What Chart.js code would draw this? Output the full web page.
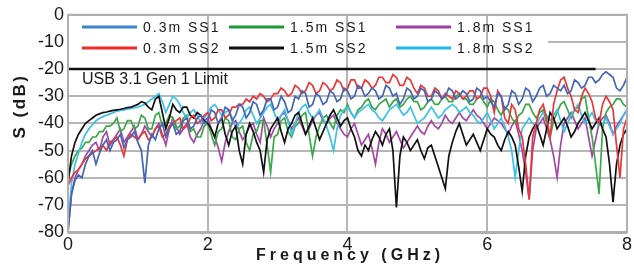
<!DOCTYPE html>
<html>
<head>
<meta charset="utf-8">
<script src="https://cdn.jsdelivr.net/npm/chart.js@4.4.1/dist/chart.umd.min.js"></script>
<style>
  html, body { margin: 0; padding: 0; background: #fff; }
  #wrap { width: 634px; height: 267px; }
</style>
</head>
<body>
<div id="wrap"><canvas id="sChart" width="634" height="267"></canvas></div>
<script>
// --- DATA (one row per GHz) ---
const freqGHz = [
  0,0.05,0.1,0.15,0.2,0.25,0.3,0.35,0.4,0.45,0.5,0.55,0.6,0.65,0.7,0.75,0.8,0.85,0.9,0.95,
  1,1.05,1.1,1.15,1.2,1.25,1.3,1.35,1.4,1.45,1.5,1.55,1.6,1.65,1.7,1.75,1.8,1.85,1.9,1.95,
  2,2.05,2.1,2.15,2.2,2.25,2.3,2.35,2.4,2.45,2.5,2.55,2.6,2.65,2.7,2.75,2.8,2.85,2.9,2.95,
  3,3.05,3.1,3.15,3.2,3.25,3.3,3.35,3.4,3.45,3.5,3.55,3.6,3.65,3.7,3.75,3.8,3.85,3.9,3.95,
  4,4.05,4.1,4.15,4.2,4.25,4.3,4.35,4.4,4.45,4.5,4.55,4.6,4.65,4.7,4.75,4.8,4.85,4.9,4.95,
  5,5.05,5.1,5.15,5.2,5.25,5.3,5.35,5.4,5.45,5.5,5.55,5.6,5.65,5.7,5.75,5.8,5.85,5.9,5.95,
  6,6.05,6.1,6.15,6.2,6.25,6.3,6.35,6.4,6.45,6.5,6.55,6.6,6.65,6.7,6.75,6.8,6.85,6.9,6.95,
  7,7.05,7.1,7.15,7.2,7.25,7.3,7.35,7.4,7.45,7.5,7.55,7.6,7.65,7.7,7.75,7.8,7.85,7.9,7.95,
  8];

const ss1_03m = [
  -80,-66,-61,-59,-60,-55,-52,-50,-55,-51,-48,-46,-50,-47,-46,-44,-49,-46,-45,-43,
  -47,-50,-62,-48,-44,-46,-42,-40,-45,-42,-40,-44,-43,-39,-38,-42,-41,-38,-37,-40,
  -39,-35,-36,-40,-38,-34,-35,-39,-37,-33,-34,-38,-36,-32,-33,-37,-35,-31,-31,-35,
  -34,-30,-32,-36,-35,-30,-31,-28,-29,-34,-33,-29,-30,-33,-32,-28,-29,-32,-31,-27,
  -28,-31,-30,-26,-27,-30,-29,-27,-28,-31,-30,-26,-27,-30,-29,-33,-31,-27,-28,-31,
  -30,-27,-28,-32,-31,-28,-29,-31,-30,-27,-28,-31,-30,-28,-29,-32,-31,-27,-28,-31,
  -30,-32,-34,-29,-30,-35,-33,-28,-29,-33,-31,-27,-28,-32,-30,-27,-26,-30,-29,-26,
  -27,-28,-26,-29,-28,-24,-25,-27,-26,-23,-23,-25,-24,-22,-21,-22,-23,-27,-28,-26,
  -23];

const ss2_03m = [
  -63,-60,-58,-57,-55,-53,-52,-51,-50,-49,-48,-50,-47,-46,-45,-48,-52,-46,-44,-45,
  -46,-44,-43,-46,-45,-42,-41,-45,-44,-41,-40,-39,-38,-42,-41,-38,-37,-40,-39,-37,
  -36,-39,-38,-35,-35,-38,-37,-34,-34,-33,-33,-31,-32,-30,-31,-29,-30,-32,-31,-29,
  -29,-27,-28,-30,-29,-26,-27,-29,-28,-25,-26,-29,-28,-25,-26,-28,-27,-24,-25,-28,
  -27,-24,-24,-27,-27,-24,-25,-27,-26,-23,-23,-25,-25,-22,-23,-26,-26,-23,-24,-27,
  -29,-26,-27,-30,-30,-27,-28,-31,-29,-30,-31,-28,-29,-31,-30,-28,-28,-31,-30,-27,
  -27,-30,-36,-28,-30,-38,-40,-33,-35,-42,-45,-55,-68,-45,-40,-35,-33,-38,-45,-33,
  -28,-24,-23,-27,-30,-35,-36,-30,-27,-29,-32,-38,-40,-33,-30,-32,-35,-48,-60,-42,
  -38];

const ss1_15m = [
  -60,-55,-52,-50,-49,-47,-47,-45,-45,-43,-43,-41,-41,-40,-38,-43,-42,-39,-39,-42,
  -41,-37,-38,-42,-42,-37,-36,-41,-40,-37,-38,-42,-41,-38,-37,-43,-42,-45,-45,-41,
  -40,-44,-48,-43,-42,-38,-39,-45,-46,-42,-41,-47,-50,-44,-43,-39,-39,-48,-58,-45,
  -44,-39,-38,-43,-45,-41,-40,-37,-36,-44,-52,-45,-41,-38,-37,-40,-42,-37,-35,-36,
  -33,-36,-38,-35,-34,-32,-31,-34,-35,-33,-32,-31,-34,-32,-31,-34,-33,-31,-30,-32,
  -32,-35,-34,-32,-31,-33,-33,-31,-30,-32,-32,-30,-29,-31,-31,-33,-33,-31,-30,-32,
  -34,-31,-32,-35,-37,-34,-35,-38,-40,-37,-36,-33,-33,-36,-38,-36,-35,-40,-45,-39,
  -36,-33,-32,-35,-38,-35,-34,-31,-30,-38,-45,-55,-66,-42,-36,-34,-33,-31,-31,-33,
  -34];

const ss2_15m = [
  -62,-52,-47,-44,-42,-40,-39,-38,-37,-36.5,-36,-35.8,-35.5,-35.2,-35,-34.8,-34.5,-34.2,-34,-33.5,
  -33,-32,-32.5,-34,-35,-31,-30,-36,-42,-38,-33,-35,-36,-34,-34,-37,-38,-36,-37,-39,
  -40,-42,-45,-40,-38,-44,-48,-43,-41,-50,-55,-44,-40,-43,-47,-50,-58,-46,-42,-40,
  -38,-43,-47,-42,-40,-37,-36,-40,-44,-41,-38,-42,-46,-43,-40,-37,-35,-38,-41,-39,
  -38,-42,-45,-50,-52,-48,-50,-46,-43,-45,-48,-44,-42,-50,-71,-52,-45,-47,-50,-48,
  -46,-50,-53,-49,-48,-52,-56,-60,-64,-52,-47,-43,-40,-44,-48,-46,-44,-47,-50,-46,
  -42,-44,-45,-48,-50,-46,-43,-45,-48,-56,-65,-52,-45,-42,-40,-44,-48,-42,-36,-38,
  -42,-40,-38,-41,-45,-43,-40,-38,-36,-39,-42,-40,-38,-42,-45,-55,-69,-55,-48,-44,
  -42];

const ss1_18m = [
  -80,-66,-60,-57,-55,-52,-50,-48,-47,-50,-45,-43,-48,-46,-44,-42,-47,-45,-43,-41,
  -46,-44,-41,-43,-45,-42,-40,-44,-48,-42,-38,-41,-44,-42,-40,-45,-47,-44,-42,-39,
  -38,-42,-45,-49,-54,-47,-43,-40,-39,-43,-46,-44,-41,-40,-44,-47,-38,-41,-45,-42,
  -40,-37,-36,-39,-42,-40,-38,-41,-44,-42,-39,-37,-36,-39,-40,-38,-37,-40,-42,-44,
  -45,-42,-40,-44,-48,-46,-44,-49,-55,-47,-42,-44,-47,-45,-43,-46,-49,-47,-45,-43,
  -41,-43,-44,-41,-39,-41,-42,-40,-37,-39,-40,-38,-36,-38,-39,-37,-35,-37,-38,-40,
  -42,-40,-38,-39,-40,-42,-44,-41,-39,-44,-50,-58,-68,-50,-42,-40,-38,-42,-46,-52,
  -60,-48,-40,-38,-36,-39,-42,-40,-38,-45,-52,-46,-40,-38,-37,-40,-44,-41,-39,-37,
  -35];

const ss2_18m = [
  -78,-62,-55,-51,-47,-44,-42,-40.5,-39,-38.2,-37.5,-37,-36.5,-36,-35.5,-35.2,-35,-34.8,-34.5,-34.2,
  -34,-33.5,-33,-32,-31,-30,-29,-32,-36,-33,-30,-31,-33,-36,-38,-36,-35,-37,-40,-38,
  -36,-34,-33,-35,-37,-36,-35,-38,-42,-40,-38,-35,-34,-37,-40,-38,-36,-34,-33,-36,
  -39,-37,-35,-39,-44,-40,-36,-34,-33,-36,-38,-37,-35,-38,-41,-45,-50,-42,-37,-35,
  -34,-36,-38,-36,-35,-34,-33,-35,-36,-38,-39,-37,-35,-34,-33,-35,-37,-36,-34,-37,
  -40,-39,-38,-36,-34,-36,-38,-37,-35,-34,-33,-34,-36,-35,-34,-36,-37,-39,-40,-38,
  -36,-39,-42,-40,-38,-41,-45,-50,-60,-50,-42,-40,-38,-40,-41,-38,-36,-37,-39,-37,
  -35,-39,-43,-40,-37,-35,-33,-37,-40,-38,-36,-39,-41,-40,-38,-41,-44,-42,-40,-37,
  -35];

const limitFreq = [0, 7.55];
const limitDb = [-20, -20];
const limitLabel = 'USB 3.1 Gen 1 Limit';

// legend: two rows, three columns (as in the figure)
const seriesLabels = ['0.3m SS1', '0.3m SS2', '1.5m SS1', '1.5m SS2', '1.8m SS1', '1.8m SS2'];
const lineColors   = ['#4466b6', '#e8383a', '#3da84a', '#111111', '#a448a6', '#3cc2e8'];
const legendColors = ['#3a86cc', '#ee2a2a', '#1f9a3a', '#111111', '#a23ca8', '#22b5e8'];
const seriesValues = [ss1_03m, ss2_03m, ss1_15m, ss2_15m, ss1_18m, ss2_18m];
const drawOrder    = [1, 2, 5, 3, 6, 4];

const textColor = '#1a1a1a';
const gridColor = '#b6b6b6';

function toPoints(xs, ys) {
    return xs.map((x, i) => ({ x: x, y: ys[i] }));
}

const datasets = seriesValues.map((vals, i) => ({
    label: seriesLabels[i],
    data: toPoints(freqGHz, vals),
    borderColor: lineColors[i],
    backgroundColor: lineColors[i],
    borderWidth: 1.7,
    pointRadius: 0,
    tension: 0,
    order: drawOrder[i]
}));

datasets.push({
    label: limitLabel,
    data: toPoints(limitFreq, limitDb),
    borderColor: '#111111',
    borderWidth: 2.5,
    pointRadius: 0,
    order: 0
});

// --- PLUGIN: frame, legend box, limit text, axis titles ---
const decorPlugin = {
    id: 'decor',
    beforeDatasetsDraw(chart) {
        const { ctx, chartArea: a, scales } = chart;
        const yTen = scales.y.getPixelForValue(-10);
        // -10 grid line only shows to the right of the legend box
        ctx.save();
        ctx.strokeStyle = gridColor;
        ctx.lineWidth = 2;
        ctx.beginPath();
        ctx.moveTo(548, yTen);
        ctx.lineTo(a.right, yTen);
        ctx.stroke();
        ctx.restore();
    },
    afterDatasetsDraw(chart) {
        const { ctx, chartArea: a, scales } = chart;
        ctx.save();
        // plot frame
        ctx.strokeStyle = '#b0b0b0';
        ctx.lineWidth = 2;
        ctx.strokeRect(a.left, a.top, a.right - a.left, a.bottom - a.top);
        ctx.lineWidth = 3;
        ctx.beginPath();
        ctx.moveTo(a.left, a.bottom + 0.5);
        ctx.lineTo(a.right, a.bottom + 0.5);
        ctx.stroke();

        // legend (inside the plot)
        const colX = [82, 229, 396];
        const rowY = [27, 48];
        ctx.font = '14px "Liberation Sans", Arial, sans-serif';
        ctx.letterSpacing = '2px';
        ctx.textBaseline = 'middle';
        ctx.textAlign = 'left';
        seriesLabels.forEach((lab, i) => {
            const cx = colX[Math.floor(i / 2)];
            const cy = rowY[i % 2];
            ctx.strokeStyle = legendColors[i];
            ctx.lineWidth = 3;
            ctx.beginPath();
            ctx.moveTo(cx, cy);
            ctx.lineTo(cx + 55, cy);
            ctx.stroke();
            ctx.fillStyle = textColor;
            ctx.fillText(lab, cx + 61, cy + 1);
        });

        // limit line label
        ctx.letterSpacing = '0px';
        ctx.font = '16px "Liberation Sans", Arial, sans-serif';
        ctx.fillText(limitLabel, 82, scales.y.getPixelForValue(-20) + 10);

        // axis titles
        ctx.font = 'bold 16px "Liberation Sans", Arial, sans-serif';
        ctx.letterSpacing = '4px';
        ctx.textAlign = 'center';
        ctx.fillText('Frequency (GHz)', 350, 256);

        ctx.translate(20, 106);
        ctx.rotate(-Math.PI / 2);
        ctx.font = 'bold 17px "Liberation Sans", Arial, sans-serif';
        ctx.letterSpacing = '2.5px';
        ctx.fillText('S (dB)', 0, 0);
        ctx.restore();
    }
};

const tickFont = { family: '"Liberation Sans", Arial, sans-serif', size: 18 };

new Chart(document.getElementById('sChart'), {
    type: 'line',
    data: { datasets: datasets },
    options: {
        responsive: false,
        animation: false,
        layout: { padding: { top: 6, right: 3, left: 0, bottom: 0 }, autoPadding: false },
        plugins: {
            legend: { display: false },
            tooltip: { enabled: false }
        },
        scales: {
            x: {
                type: 'linear',
                min: 0,
                max: 8,
                ticks: { stepSize: 2, color: textColor, font: tickFont, padding: 2, maxRotation: 0 },
                grid: { color: gridColor, lineWidth: 2, drawTicks: false },
                border: { display: false },
                afterFit(scale) { scale.height = 35; }
            },
            y: {
                min: -80,
                max: 0,
                ticks: { stepSize: 10, color: textColor, font: tickFont, padding: 4 },
                grid: {
                    color: (c) => (c.tick && c.tick.value === -10) ? 'rgba(0,0,0,0)' : gridColor,
                    lineWidth: 2,
                    drawTicks: false
                },
                border: { display: false },
                afterFit(scale) { scale.width = 68; }
            }
        }
    },
    plugins: [decorPlugin]
});
</script>
</body>
</html>
